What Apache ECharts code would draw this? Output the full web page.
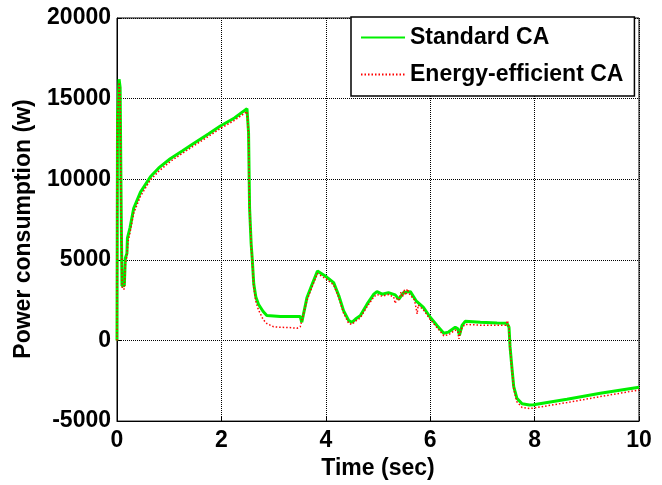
<!DOCTYPE html>
<html>
<head>
<meta charset="utf-8">
<script src="https://cdn.jsdelivr.net/npm/echarts@6/dist/echarts.min.js"></script>
<style>
  html, body { margin: 0; padding: 0; background: #fff; }
  #chart { width: 662px; height: 485px; }
</style>
</head>
<body>
<div id="chart"></div>
<script>
// time axis (sec) and power (W)
var stdTime = [0, 0.01, 0.04, 0.06, 0.08, 0.095, 0.14, 0.16, 0.19, 0.2, 0.25, 0.32, 0.45, 0.64, 0.8, 1.02, 1.25, 1.46, 1.75, 1.98, 2.25, 2.49,
  2.52, 2.54, 2.57, 2.59, 2.62, 2.66, 2.71, 2.8, 2.87, 3.13, 3.51, 3.54, 3.64, 3.74, 3.84, 3.99, 4.15, 4.25, 4.34, 4.44, 4.47, 4.5, 4.57,
  4.66, 4.79, 4.92, 4.98, 5.08, 5.2, 5.33, 5.4, 5.49, 5.62, 5.73, 5.87, 6.0, 6.13, 6.26, 6.35, 6.48, 6.53, 6.56, 6.61, 6.67, 6.96, 7.28,
  7.47, 7.51, 7.53, 7.57, 7.6, 7.66, 7.76, 7.9, 7.98, 8.62, 9.26, 10];
var stdPower = [0, 14000, 16200, 15700, 8200, 3400, 3400, 5100, 5400, 6350, 7000, 8200, 9200, 10150, 10700, 11270, 11750, 12200, 12800, 13300, 13800, 14380,
  12900, 8200, 6000, 5100, 3500, 2700, 2250, 1800, 1550, 1480, 1480, 1130, 2670, 3500, 4300, 4000, 3590, 2770, 1850, 1230, 1330, 1130, 1330,
  1540, 2250, 2870, 3030, 2870, 2970, 2830, 2560, 2970, 3030, 2460, 2050, 1440, 930, 450, 520, 820, 720, 310, 930, 1190, 1130, 1090,
  1070, 820, -400, -1840, -2860, -3580, -3930, -4000, -3990, -3640, -3270, -2900];

var effTime = [0, 0.01, 0.04, 0.06, 0.08, 0.1, 0.14, 0.16, 0.19, 0.21, 0.25, 0.32, 0.45, 0.64, 0.8, 1.02, 1.25, 1.46, 1.75, 1.98, 2.25, 2.49,
  2.52, 2.54, 2.57, 2.59, 2.62, 2.66, 2.71, 2.8, 2.87, 3.0, 3.13, 3.3, 3.45, 3.51, 3.54, 3.64, 3.74, 3.84, 3.99, 4.15, 4.25, 4.34, 4.44, 4.47,
  4.5, 4.57, 4.66, 4.79, 4.92, 4.98, 5.08, 5.2, 5.3, 5.33, 5.36, 5.4, 5.44, 5.47, 5.5, 5.53, 5.56, 5.6, 5.62, 5.7, 5.73, 5.75, 5.77, 5.87,
  6.0, 6.13, 6.26, 6.35, 6.48, 6.53, 6.55, 6.57, 6.61, 6.67, 6.96, 7.28, 7.45, 7.48, 7.51, 7.53, 7.57, 7.6, 7.66, 7.76, 7.9, 7.98, 8.62, 9.26, 10];
var effPower = [0, 13800, 16000, 15300, 7800, 3200, 3200, 4800, 5200, 6100, 6700, 7900, 8950, 9950, 10500, 11100, 11600, 12050, 12650, 13150, 13650, 14200,
  12800, 8100, 5900, 5000, 3300, 2400, 1900, 1300, 1050, 850, 820, 800, 760, 850, 950, 2500, 3350, 4150, 3850, 3450, 2650, 1700, 1050, 950,
  1000, 1200, 1400, 2100, 2700, 2850, 2750, 2850, 2700, 2300, 2600, 2500, 3000, 2700, 3150, 2800, 3200, 2900, 2950, 2500, 2000, 1650, 2200, 1900,
  1300, 800, 300, 350, 650, 550, 100, 400, 800, 1000, 950, 950, 950, 1230, 800, -500, -1950, -3000, -3800, -4150, -4220, -4190, -3850, -3480, -3070];

var xTicks = [0, 2, 4, 6, 8, 10];
var yTicks = [-5000, 0, 5000, 10000, 15000, 20000];

var FONT = "'Liberation Sans', Arial, sans-serif";

function pairs(t, v) {
  var out = [];
  for (var i = 0; i < t.length; i++) out.push([t[i], v[i]]);
  return out;
}

var myChart = echarts.init(document.getElementById('chart'));

var options = {
  backgroundColor: '#fff',
  animation: false,
  grid: {
    left: 117, top: 18, right: 23, bottom: 60,
    show: true, borderColor: '#000', borderWidth: 1
  },
  legend: {
    left: 351, top: 17,
    orient: 'vertical',
    backgroundColor: '#fff',
    borderColor: '#000', borderWidth: 1.5,
    padding: [9, 11, 10, 9],
    itemWidth: 44, itemHeight: 23, itemGap: 14,
    itemStyle: { opacity: 0, borderWidth: 0 },
    textStyle: { fontFamily: FONT, fontWeight: 'bold', fontSize: 23, color: '#000' },
    data: ['Standard CA', 'Energy-efficient CA']
  },
  xAxis: {
    type: 'value',
    min: xTicks[0], max: xTicks[xTicks.length - 1], interval: 2,
    name: 'Time (sec)', nameLocation: 'middle', nameGap: 32,
    nameTextStyle: { fontFamily: FONT, fontWeight: 'bold', fontSize: 23, color: '#000' },
    axisLine: { show: true, onZero: false, lineStyle: { color: '#000', width: 1 } },
    axisTick: { show: true, inside: true, length: 5, lineStyle: { color: '#000' } },
    axisLabel: { fontFamily: FONT, fontWeight: 'bold', fontSize: 23, color: '#000', margin: 8 },
    splitLine: { show: true, lineStyle: { color: '#000', type: [1, 1], width: 1 } }
  },
  yAxis: {
    type: 'value',
    min: yTicks[0], max: yTicks[yTicks.length - 1], interval: 5000,
    axisLine: { show: true, onZero: false, lineStyle: { color: '#000', width: 1 } },
    axisTick: { show: true, inside: true, length: 5, lineStyle: { color: '#000' } },
    axisLabel: {
      fontFamily: FONT, fontWeight: 'bold', fontSize: 23, color: '#000', margin: 6,
      formatter: function (v) { return String(v); }
    },
    splitLine: { show: true, lineStyle: { color: '#000', type: [1, 1], width: 1 } }
  },
  graphic: [{
    type: 'text',
    x: 24, y: 229,
    rotation: Math.PI / 2,
    style: {
      text: 'Power consumption (w)',
      fontFamily: FONT, fontWeight: 'bold', fontSize: 23, fill: '#000',
      align: 'center', verticalAlign: 'middle'
    }
  }],
  series: [
    {
      name: 'Standard CA',
      type: 'line',
      data: pairs(stdTime, stdPower),
      showSymbol: false, symbol: 'none',
      lineStyle: { color: '#00f000', width: 3 },
      itemStyle: { color: '#00f000' },
      z: 2
    },
    {
      name: 'Energy-efficient CA',
      type: 'line',
      data: pairs(effTime, effPower),
      showSymbol: false, symbol: 'none',
      lineStyle: { color: '#ff0000', width: 1.5, type: [1.5, 2] },
      itemStyle: { color: '#ff0000' },
      z: 3
    }
  ]
};

myChart.setOption(options);
</script>
</body>
</html>
